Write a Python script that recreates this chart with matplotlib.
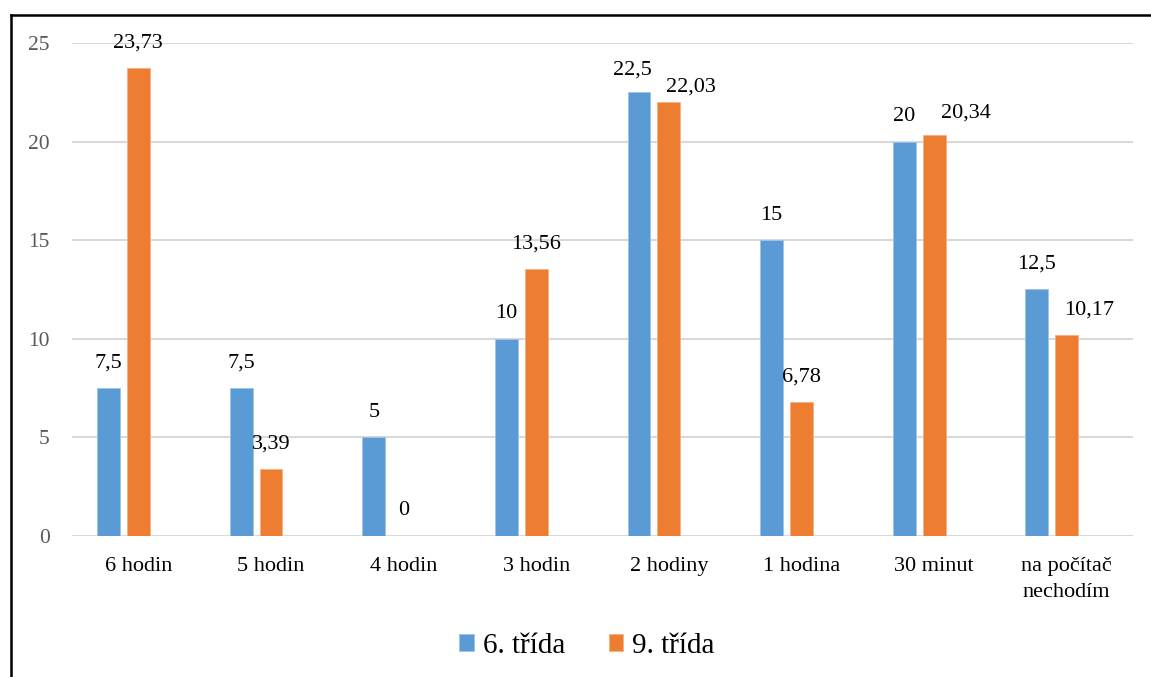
import matplotlib.pyplot as plt
import numpy as np
from matplotlib.lines import Line2D

categories = ["6 hodin", "5 hodin", "4 hodin", "3 hodin", "2 hodiny",
              "1 hodina", "30 minut", "na počítač\nnechodím"]
grade6 = [7.5, 7.5, 5, 10, 22.5, 15, 20, 12.5]
grade9 = [23.73, 3.39, 0, 13.56, 22.03, 6.78, 20.34, 10.17]
labels6 = ["7,5", "7,5", "5", "10", "22,5", "15", "20", "12,5"]
labels9 = ["23,73", "3,39", "0", "13,56", "22,03", "6,78", "20,34", "10,17"]
series_names = ["6. třída", "9. třída"]
yticks = [0, 5, 10, 15, 20, 25]

# label offsets (points) where neighbouring labels would collide
default_offset = (0, 18)
label_shift = {(0, 4): (-5, 16), (1, 4): (16, 10.5), (1, 6): (23, 16), (1, 7): (16, 18)}

plt.rcParams["font.family"] = ["Liberation Serif", "DejaVu Serif"]

fig = plt.figure(figsize=(11.51, 6.77), dpi=100)
ax = fig.add_axes([0.0626, 0.2083, 0.9218, 0.7282])

x = np.arange(len(categories))
w = 0.173
blue = "#5B9BD5"
orange = "#ED7D31"
b1 = ax.bar(x - 0.225, grade6, w, color=blue, edgecolor="#9DC3E6", linewidth=0.6,
            label=series_names[0], zorder=3)
b2 = ax.bar(x, grade9, w, color=orange, edgecolor="#F4B183", linewidth=0.6,
            label=series_names[1], zorder=3)

for si, (bars, labs) in enumerate(((b1, labels6), (b2, labels9))):
    for i, (rect, lab) in enumerate(zip(bars, labs)):
        off = label_shift.get((si, i), default_offset)
        ax.annotate(lab, (rect.get_x() + rect.get_width() / 2, rect.get_height()),
                    xytext=off, textcoords="offset points",
                    ha="center", va="center", fontsize=16, color="black", zorder=4)

ax.set_xlim(-0.5, len(categories) - 0.5)
ax.set_ylim(0, 25)
ax.set_yticks(yticks)
ax.set_yticklabels([str(t) for t in yticks], fontsize=15.5, color="#595959")
ax.set_xticks(x)
ax.set_xticklabels(categories, fontsize=16, color="black", linespacing=1.5)
ax.tick_params(axis="both", length=0)
ax.tick_params(axis="y", pad=16)
ax.tick_params(axis="x", pad=15)
ax.yaxis.grid(True, color="#D9D9D9", linewidth=1.5, zorder=0)
ax.set_axisbelow(True)
for s in ax.spines.values():
    s.set_visible(False)

leg = fig.legend(handles=[b1, b2], loc="center", bbox_to_anchor=(0.51, 1 - 646 / 677),
                 ncol=2, frameon=False, fontsize=21, handlelength=0.5, handleheight=0.5,
                 handletextpad=0.3, columnspacing=1.5)

# outer frame of the chart
fig.add_artist(Line2D([10.5 / 1151, 10.5 / 1151], [0, 1 - 14.5 / 677],
                      transform=fig.transFigure, color="black", linewidth=1.8))
fig.add_artist(Line2D([10.5 / 1151, 1], [1 - 14.5 / 677, 1 - 14.5 / 677],
                      transform=fig.transFigure, color="black", linewidth=1.8))

fig.savefig("out.png", dpi=100)
